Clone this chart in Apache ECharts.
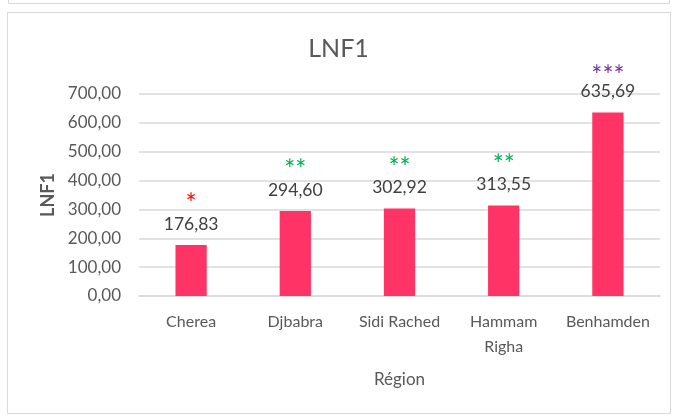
<!DOCTYPE html>
<html><head><meta charset="utf-8">
<script src="https://cdn.jsdelivr.net/npm/echarts@6/dist/echarts.min.js"></script>
<style>html,body{margin:0;padding:0;background:#fff}#c{width:677px;height:419px}</style>
</head><body><div id="c"></div>
<script>
const categories = ['Cherea', 'Djbabra', 'Sidi Rached', 'Hammam\nRigha', 'Benhamden'];
const values = [176.83, 294.60, 302.92, 313.55, 635.69];
const stars = ['*', '**', '**', '**', '***'];
const starColors = ['#ff0000', '#00b050', '#00b050', '#00b050', '#7030a0'];
const yTicks = [0, 100, 200, 300, 400, 500, 600, 700];

const FONT = 'Lato, "Liberation Sans", sans-serif';
const fmt = v => v.toFixed(2).replace('.', ',');

const chart = echarts.init(document.getElementById('c'), null, {renderer: 'canvas'});
chart.setOption({
  animation: false,
  backgroundColor: '#fff',
  graphic: [
    {type: 'rect', shape: {x: 8.5, y: -10, width: 661, height: 13.5}, style: {fill: 'none', stroke: '#d9d9d9', lineWidth: 1}},
    {type: 'rect', shape: {x: 7.5, y: 12.5, width: 663, height: 401}, style: {fill: 'none', stroke: '#d9d9d9', lineWidth: 1}}
  ],
  title: {
    text: 'LNF1', left: 'center', top: 31,
    textStyle: {fontFamily: FONT, fontSize: 25, fontWeight: 'normal', color: '#595959'}
  },
  grid: {left: 139, right: 17, top: 94, bottom: 123},
  xAxis: {
    type: 'category', data: categories,
    name: 'Région', nameLocation: 'middle', nameGap: 75,
    nameTextStyle: {fontFamily: FONT, fontSize: 17, color: '#595959'},
    axisLine: {lineStyle: {color: '#d9d9d9', width: 1.5}},
    axisTick: {show: false},
    axisLabel: {interval: 0, hideOverlap: false, fontFamily: FONT, fontSize: 16, color: '#595959', margin: 13, lineHeight: 25}
  },
  yAxis: {
    type: 'value', min: 0, max: 700, interval: 100,
    name: 'LNF1', nameLocation: 'middle', nameGap: 82,
    nameTextStyle: {fontFamily: FONT, fontSize: 18, fontWeight: 'bold', color: '#595959'},
    axisLine: {show: false}, axisTick: {show: false},
    axisLabel: {fontFamily: FONT, fontSize: 17, color: '#595959', margin: 18, formatter: v => fmt(v)},
    splitLine: {lineStyle: {color: '#d9d9d9', width: 1.5}}
  },
  series: [{
    type: 'bar', barWidth: '30%',
    itemStyle: {color: '#ff3366'},
    data: values.map((v, i) => ({
      value: v,
      label: {
        show: true, position: 'top', distance: 11,
        formatter: '{s|' + stars[i] + '}\n{v|' + fmt(v) + '}',
        rich: {
          s: {fontFamily: FONT, fontSize: 26, color: starColors[i], lineHeight: i === 4 ? 9 : 18},
          v: {fontFamily: FONT, fontSize: 17.5, color: '#404040', lineHeight: 20}
        }
      }
    }))
  }]
});
</script></body></html>
